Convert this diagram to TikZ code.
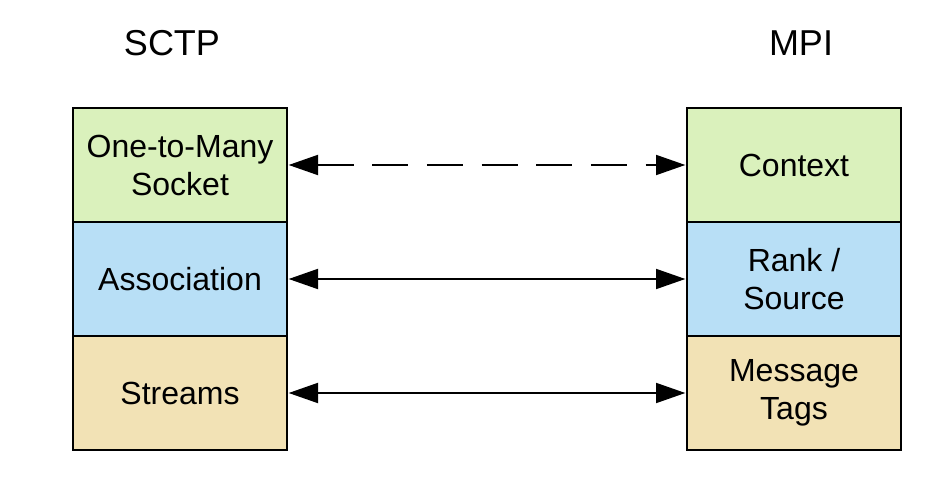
\documentclass[tikz,border=0pt]{standalone}
\usepackage{fontspec}
\setmainfont{Liberation Sans}
\usetikzlibrary{arrows.meta}
\definecolor{cgreen}{HTML}{DAF1BC}
\definecolor{cblue}{HTML}{B8DFF6}
\definecolor{ctan}{HTML}{F2E2B5}
\begin{document}
\begin{tikzpicture}[x=0.75pt,y=-0.75pt,
  cell/.style={draw=black,line width=1.5pt,minimum width=160.5pt,minimum height=85.5pt,
    align=center,inner sep=0pt,font=\fontsize{24}{28.5}\selectfont},
  title/.style={font=\fontsize{27}{30}\selectfont,inner sep=0pt},
  link/.style={line width=1.4pt,{Triangle[length=22pt,width=15pt]}-{Triangle[length=22pt,width=15pt]},shorten <=0.5pt,shorten >=0.5pt},
  dlink/.style={link,dash pattern=on 27pt off 14pt}]
\useasboundingbox (0,0) rectangle (947,491);
\node[title] (t1) at (172,43) {SCTP};
\node[title] (t2) at (801,43) {MPI};
\node[cell,fill=cgreen] (l1) at (180,165) {One-to-Many\\Socket};
\node[cell,fill=cblue]  (l2) at (180,279) {Association};
\node[cell,fill=ctan]   (l3) at (180,393) {Streams};
\node[cell,fill=cgreen] (r1) at (794,165) {Context};
\node[cell,fill=cblue]  (r2) at (794,279) {Rank /\\Source};
\node[cell,fill=ctan]   (r3) at (794,393) {Message\\Tags};
\draw[dlink] (l1.east) -- (r1.west);
\draw[link] (l2.east) -- (r2.west);
\draw[link] (l3.east) -- (r3.west);
\end{tikzpicture}
\end{document}
